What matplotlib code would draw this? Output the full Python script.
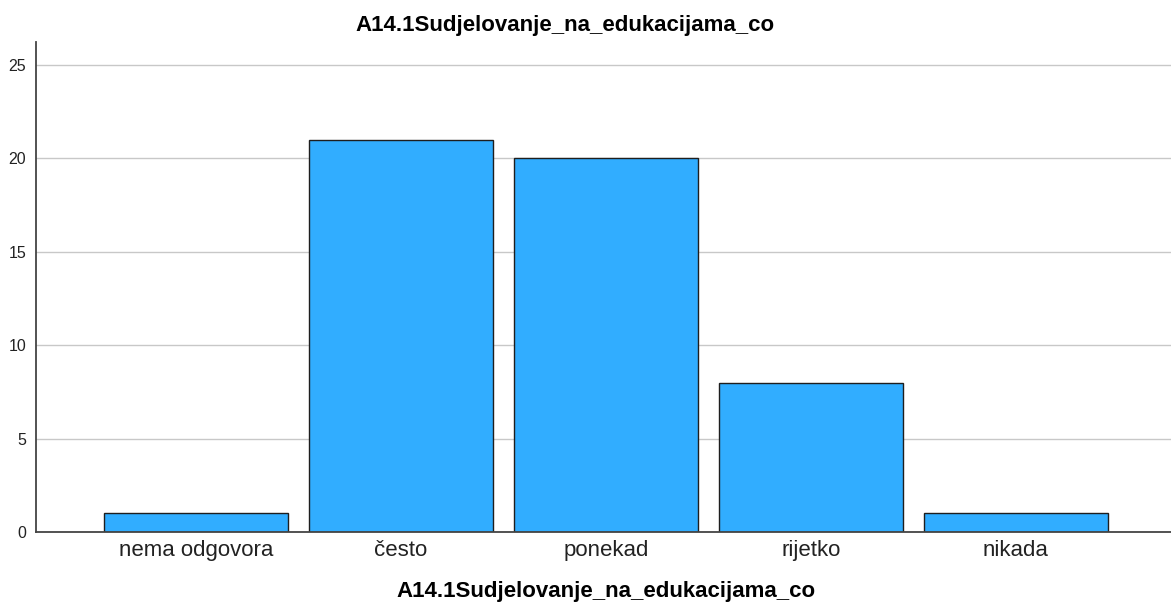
import matplotlib
matplotlib.use('Agg')
import matplotlib.pyplot as plt

categories = ['nema odgovora', 'često', 'ponekad', 'rijetko', 'nikada']
counts = [1, 21, 20, 8, 1]
yticks = [0, 5, 10, 15, 20, 25]
title = 'A14.1Sudjelovanje_na_edukacijama_co'

plt.rcParams['font.family'] = ['Liberation Sans', 'DejaVu Sans']

fig = plt.figure(figsize=(11.71, 6.05), dpi=100)
ax = fig.add_axes([0.0307, 0.1207, 0.9693, 0.81])

ax.set_axisbelow(True)
ax.yaxis.grid(True, color='#c8c8c8', linewidth=1)
x = range(len(categories))
ax.bar(x, counts, width=0.9, color='#31adff', edgecolor='#1e1e1e', linewidth=1)

ax.set_xlim(-0.78, 4.756)
ax.set_ylim(0, 26.23)
ax.set_yticks(yticks)
ax.set_xticks(list(x))
ax.set_xticklabels(categories, fontsize=16, color='#222222')
ax.tick_params(axis='y', labelsize=11.5, length=0, pad=7, colors='#222222')
ax.tick_params(axis='x', length=0, pad=6)

for s in ['top', 'right']:
    ax.spines[s].set_visible(False)
for s in ['left', 'bottom']:
    ax.spines[s].set_color('#444444')
    ax.spines[s].set_linewidth(1.3)

fig.text(0.4825, 0.958, title, fontsize=16, fontweight='bold', ha='center', va='center')
fig.text(0.5175, 0.022, title, fontsize=16, fontweight='bold', ha='center', va='center')

fig.savefig('out.png', dpi=100)
